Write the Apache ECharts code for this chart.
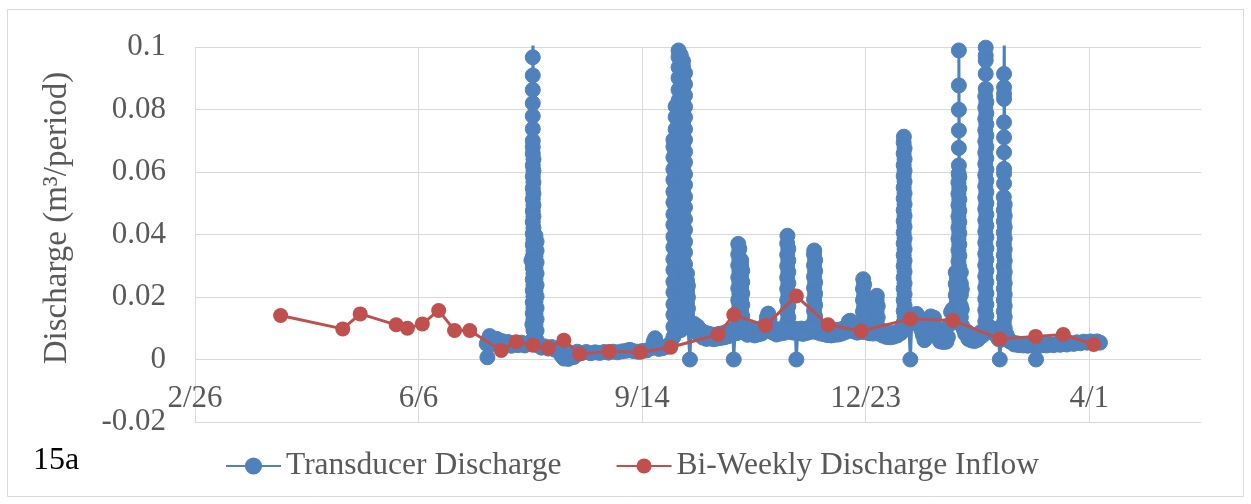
<!DOCTYPE html>
<html>
<head>
<meta charset="utf-8">
<title>Discharge 15a</title>
<script src="https://cdn.jsdelivr.net/npm/echarts@6/dist/echarts.min.js"></script>
<style>
  html, body { margin: 0; padding: 0; background: #ffffff; }
  #chart { width: 1251px; height: 504px; }
</style>
</head>
<body>
<div id="chart"></div>
<script>
// x values are days counted from 2/26; ticks every 100 days
const xTickLabels = ['2/26', '6/6', '9/14', '12/23', '4/1'];
const seriesNames = ['Transducer Discharge', 'Bi-Weekly Discharge Inflow'];

// Transducer record, in time order: [day, m3 per period]
const earlySummer = [
  [130.5,0.0050],[130.8,0.0007],[131.2,0.0063],[131.8,0.0075],[132.5,0.0049],[133.2,0.0068],
  [134.0,0.0057],[135.0,0.0066],[136.0,0.0051],[137.2,0.0059],[138.5,0.0047],[140.0,0.0056],
  [141.5,0.0044],[143.0,0.0053],[144.5,0.0046],[146.0,0.0054],[147.5,0.0045],[148.5,0.0050]
];
const julySpike = [
  [150.3,0.0058],[150.5,0.0317],[150.9,0.0112],
  [151.1,0.0148],[151.1,0.0183],[151.1,0.0221],[151.1,0.0256],[151.1,0.0294],[151.1,0.0329],
  [151.1,0.0367],[151.1,0.0402],[151.1,0.0440],[151.1,0.0475],[151.1,0.0513],[151.1,0.0548],
  [151.1,0.0586],[151.1,0.0621],[151.1,0.0659],[151.1,0.0680],[151.1,0.0700],[151.1,0.0738],
  [151.1,0.0779],[151.1,0.0820],[151.1,0.0863],[151.1,0.0909],[151.1,0.0967],[151.2,0.1040],
  [151.4,0.0641],[151.4,0.0604],[151.4,0.0567],[151.4,0.0531],[151.4,0.0494],[151.4,0.0458],
  [151.4,0.0421],[151.4,0.0384],[151.4,0.0348],[151.4,0.0311],[151.4,0.0275],[151.4,0.0238],
  [151.4,0.0202],[151.4,0.0165],[151.4,0.0129],[151.4,0.0093],
  [152.3,0.0111],[152.3,0.0147],[152.3,0.0184],[152.3,0.0220],[152.3,0.0257],[152.3,0.0293],
  [152.3,0.0330],[152.3,0.0366],[152.3,0.0396],
  [152.8,0.0378],[152.8,0.0348],[152.8,0.0311],[152.8,0.0275],[152.8,0.0238],[152.8,0.0202],
  [152.8,0.0165],[152.8,0.0129],[152.8,0.0092],[152.8,0.0062]
];
const lateSummer = [
  [153.5,0.0045],[155.0,0.0038],[156.5,0.0042],[158.0,0.0035],[159.5,0.0040],[161.0,0.0031],
  [162.5,0.0036],[164.0,0.0012],[165.0,0.0003],[166.0,0.0015],[167.0,0.0002],[168.0,0.0020],
  [169.5,0.0008],[171.0,0.0025],[173.0,0.0021],[175.0,0.0024],[177.0,0.0020],[179.0,0.0023],
  [181.0,0.0021],[183.0,0.0024],[185.0,0.0022],[187.0,0.0025],[189.0,0.0023],[191.0,0.0026],
  [193.0,0.0028],[194.5,0.0031],[196.0,0.0027],[198.0,0.0025],[200.0,0.0027],[202.0,0.0029],
  [204.0,0.0036],[205.2,0.0058],[205.8,0.0068],[206.4,0.0052],[207.5,0.0034],[209.0,0.0036],
  [210.5,0.0040],[211.5,0.0044],[212.8,0.0052]
];
const septemberSpike = [
  [214.0,0.0072],[214.0,0.0105],[214.0,0.0143],[214.0,0.0177],[214.0,0.0215],[214.0,0.0249],
  [214.0,0.0287],[214.0,0.0321],[214.0,0.0359],[214.0,0.0393],[214.0,0.0431],[214.0,0.0465],
  [214.0,0.0503],[214.0,0.0537],[214.0,0.0575],[214.0,0.0609],[214.0,0.0647],[214.0,0.0681],
  [214.0,0.0703],
  [215.0,0.0810],[215.0,0.0776],[215.0,0.0737],[215.0,0.0703],[215.0,0.0665],[215.0,0.0631],
  [215.0,0.0593],[215.0,0.0559],[215.0,0.0521],[215.0,0.0487],[215.0,0.0449],[215.0,0.0415],
  [215.0,0.0377],[215.0,0.0343],[215.0,0.0305],[215.0,0.0271],[215.0,0.0233],[215.0,0.0199],
  [215.0,0.0161],[215.0,0.0127],[215.0,0.0091],
  [216.3,0.0110],[216.3,0.0143],[216.3,0.0181],[216.3,0.0215],[216.3,0.0253],[216.3,0.0287],
  [216.3,0.0325],[216.3,0.0359],[216.3,0.0397],[216.3,0.0431],[216.3,0.0469],[216.3,0.0503],
  [216.3,0.0541],[216.3,0.0575],[216.3,0.0613],[216.3,0.0647],[216.3,0.0685],[216.3,0.0719],
  [216.3,0.0757],[216.3,0.0791],[216.3,0.0829],[216.3,0.0863],[216.3,0.0901],[216.3,0.0935],
  [216.3,0.0968],[216.3,0.0989],
  [217.3,0.0974],[217.3,0.0953],[217.3,0.0917],[217.3,0.0879],[217.3,0.0845],[217.3,0.0807],
  [217.3,0.0773],[217.3,0.0735],[217.3,0.0701],[217.3,0.0663],[217.3,0.0629],[217.3,0.0591],
  [217.3,0.0557],[217.3,0.0519],[217.3,0.0485],[217.3,0.0447],[217.3,0.0413],[217.3,0.0375],
  [217.3,0.0341],[217.3,0.0303],[217.3,0.0269],[217.3,0.0231],[217.3,0.0197],[217.3,0.0159],
  [217.3,0.0125],[217.3,0.0094],
  [218.3,0.0108],[218.3,0.0145],[218.3,0.0179],[218.3,0.0217],[218.3,0.0251],[218.3,0.0289],
  [218.3,0.0323],[218.3,0.0361],[218.3,0.0395],[218.3,0.0433],[218.3,0.0467],[218.3,0.0505],
  [218.3,0.0539],[218.3,0.0577],[218.3,0.0611],[218.3,0.0649],[218.3,0.0683],[218.3,0.0721],
  [218.3,0.0755],[218.3,0.0793],[218.3,0.0827],[218.3,0.0865],[218.3,0.0899],[218.3,0.0937],
  [218.3,0.0955],
  [219.2,0.0917],[219.2,0.0881],[219.2,0.0845],[219.2,0.0809],[219.2,0.0775],[219.2,0.0737],
  [219.2,0.0703],[219.2,0.0665],[219.2,0.0631],[219.2,0.0593],[219.2,0.0559],[219.2,0.0521],
  [219.2,0.0487],[219.2,0.0449],[219.2,0.0415],[219.2,0.0377],[219.2,0.0343],[219.2,0.0305],
  [219.2,0.0271],[219.2,0.0233],[219.2,0.0199],[219.2,0.0161],[219.2,0.0127],
  [220.1,0.0145],[220.1,0.0180],[220.1,0.0217],[220.1,0.0252],[220.1,0.0275],
  [220.5,0.0236],[220.5,0.0199],[220.5,0.0163],[220.5,0.0126],[220.5,0.0105]
];
const autumn = [
  [221.0,0.0102],[221.4,0.0000],[221.9,0.0110],[222.6,0.0095],[223.3,0.0114],[224.0,0.0088],
  [224.8,0.0106],[225.6,0.0079],[226.4,0.0093],[227.2,0.0070],[228.0,0.0086],[228.8,0.0066],
  [229.6,0.0083],[230.4,0.0068],[231.2,0.0080],[232.0,0.0065],[232.8,0.0079],[233.6,0.0067],
  [234.4,0.0082],[235.2,0.0069],[236.0,0.0084],[236.8,0.0071],[237.6,0.0088],[238.4,0.0074],
  [239.2,0.0092],[240.0,0.0080],[240.6,0.0095],[241.0,0.0000],[241.6,0.0098],[242.3,0.0084],
  [243.0,0.0118],[243.0,0.0155],[243.0,0.0190],[243.0,0.0228],[243.0,0.0263],[243.0,0.0301],
  [243.0,0.0336],[243.0,0.0370],
  [243.5,0.0354],[243.5,0.0318],[243.5,0.0282],[243.5,0.0246],[243.5,0.0210],[243.5,0.0173],
  [243.5,0.0137],[243.5,0.0101],
  [244.3,0.0120],[244.3,0.0157],[244.3,0.0193],[244.3,0.0229],[244.3,0.0266],[244.3,0.0302],
  [244.3,0.0318],
  [244.8,0.0284],[244.8,0.0248],[244.8,0.0211],[244.8,0.0175],[244.8,0.0139],[244.8,0.0103],
  [245.5,0.0086],[246.3,0.0100],[247.1,0.0079],[247.9,0.0094],[248.7,0.0081],[249.5,0.0098],
  [250.3,0.0077],[251.1,0.0093],[251.9,0.0080],[252.7,0.0097],[253.5,0.0083],[254.3,0.0101],
  [255.1,0.0112],[255.8,0.0135],[256.4,0.0147],[257.0,0.0128],[257.7,0.0104],[258.5,0.0086],
  [259.3,0.0099],[260.1,0.0080],[260.9,0.0095],[261.7,0.0083],[262.5,0.0098],[263.3,0.0085],
  [264.1,0.0102],
  [264.9,0.0118],[264.9,0.0153],[264.9,0.0190],[264.9,0.0226],[264.9,0.0262],[264.9,0.0299],
  [264.9,0.0335],[264.9,0.0371],[265.0,0.0396],
  [265.4,0.0354],[265.4,0.0317],[265.4,0.0280],[265.4,0.0244],[265.4,0.0208],[265.4,0.0171],
  [265.4,0.0135],[265.4,0.0100],
  [266.2,0.0088],[267.0,0.0101],[267.8,0.0086],[268.5,0.0098],[269.0,0.0000],[269.6,0.0096],
  [270.4,0.0084],[271.2,0.0099],[272.0,0.0082],[272.8,0.0096],[273.6,0.0085],[274.4,0.0101],
  [275.2,0.0088],[276.0,0.0103],
  [276.9,0.0120],[276.9,0.0156],[276.9,0.0192],[276.9,0.0229],[276.9,0.0265],[276.9,0.0301],
  [276.9,0.0336],[277.0,0.0349],
  [277.4,0.0318],[277.4,0.0283],[277.4,0.0247],[277.4,0.0210],[277.4,0.0174],[277.4,0.0138],
  [277.4,0.0102],
  [278.2,0.0087],[279.0,0.0100],[279.8,0.0083],[280.6,0.0097],[281.4,0.0081],[282.2,0.0094],
  [283.0,0.0078],[283.8,0.0092],[284.6,0.0077],[285.4,0.0093],[286.2,0.0079],[287.0,0.0095],
  [287.8,0.0080],[288.6,0.0096],[289.4,0.0083],[290.2,0.0100],[291.0,0.0088],[291.8,0.0110],
  [292.5,0.0122],[293.1,0.0124],[293.8,0.0106],[294.6,0.0090],[295.4,0.0101],[296.2,0.0086],
  [297.0,0.0099],[297.8,0.0088],
  [298.8,0.0118],[298.8,0.0153],[298.8,0.0190],[298.8,0.0226],[298.9,0.0257],
  [299.3,0.0240],[299.3,0.0204],[299.3,0.0168],[299.3,0.0131],[299.3,0.0100],
  [300.1,0.0087],[300.9,0.0099],[301.7,0.0084],[302.5,0.0097],[303.3,0.0083],[304.1,0.0098],
  [304.9,0.0117],[304.9,0.0153],[304.9,0.0189],[305.0,0.0204],
  [305.4,0.0171],[305.4,0.0135],[305.4,0.0100],
  [306.2,0.0082],[307.0,0.0094],[307.8,0.0076],[308.6,0.0089],[309.4,0.0072],[310.2,0.0085],
  [311.0,0.0071],[311.8,0.0084],[312.6,0.0073],[313.4,0.0086],[314.2,0.0077],[315.0,0.0092],
  [315.8,0.0085],[316.5,0.0100]
];
const decemberSpike = [
  [317.0,0.0118],[317.0,0.0155],[317.0,0.0190],[317.0,0.0227],[317.0,0.0262],[317.0,0.0299],
  [317.0,0.0334],[317.0,0.0371],[317.0,0.0406],[317.0,0.0443],[317.0,0.0478],[317.0,0.0515],
  [317.0,0.0550],[317.0,0.0587],[317.0,0.0622],[317.0,0.0659],[317.0,0.0694],[317.1,0.0713],
  [317.4,0.0676],[317.4,0.0641],[317.4,0.0604],[317.4,0.0569],[317.4,0.0532],[317.4,0.0497],
  [317.4,0.0460],[317.4,0.0425],[317.4,0.0388],[317.4,0.0353],[317.4,0.0316],[317.4,0.0281],
  [317.4,0.0244],[317.4,0.0209],[317.4,0.0172],[317.4,0.0137],[317.4,0.0104],
  [318.3,0.0118],[319.2,0.0125],[320.0,0.0000],[320.7,0.0132]
];
const winter = [
  [321.4,0.0141],[322.1,0.0120],[322.8,0.0146],[323.5,0.0112],[324.2,0.0128],[324.9,0.0095],
  [325.6,0.0078],[326.3,0.0062],[327.0,0.0081],[327.7,0.0104],[328.4,0.0126],[329.1,0.0138],
  [329.8,0.0121],[330.5,0.0134],[331.2,0.0105],[331.9,0.0086],[332.6,0.0067],[333.3,0.0058],
  [334.0,0.0066],[334.7,0.0056],[335.4,0.0063],[336.1,0.0057],[336.8,0.0072],[337.5,0.0112],
  [338.2,0.0152],[338.9,0.0161],[339.6,0.0134],
  [340.3,0.0170],[340.3,0.0206],[340.3,0.0242],[340.3,0.0279],
  [340.8,0.0262],[340.8,0.0225],[340.8,0.0188],[340.8,0.0152],
  [341.5,0.0170],[341.5,0.0206],[341.5,0.0242],[341.5,0.0278],[341.5,0.0314],[341.5,0.0350],
  [341.5,0.0386],[341.5,0.0422],[341.5,0.0458],[341.5,0.0494],[341.5,0.0530],[341.5,0.0566],
  [341.6,0.0595],[341.7,0.0621],[341.7,0.0677],[341.7,0.0733],[341.7,0.0799],[341.7,0.0877],
  [341.7,0.0989],
  [341.9,0.0584],[341.9,0.0548],[341.9,0.0512],[341.9,0.0476],[341.9,0.0440],[341.9,0.0404],
  [341.9,0.0368],[341.9,0.0332],[341.9,0.0296],[341.9,0.0260],[341.9,0.0224],[341.9,0.0188],
  [341.9,0.0152],[341.9,0.0118],
  [342.6,0.0135],[342.6,0.0171],[342.6,0.0207],[342.6,0.0243],[342.6,0.0279],
  [343.0,0.0225],[343.0,0.0160],[343.0,0.0110],
  [343.8,0.0098],[344.5,0.0082],[345.2,0.0090],[345.9,0.0066],[346.6,0.0079],[347.3,0.0061],
  [348.0,0.0074],[348.7,0.0059],[349.4,0.0071],[350.1,0.0063],[350.8,0.0080],[351.5,0.0088],
  [352.2,0.0076],[352.9,0.0092],
  [353.5,0.0122],[353.5,0.0158],[353.5,0.0194],[353.5,0.0230],[353.5,0.0266],[353.5,0.0302],
  [353.5,0.0338],[353.5,0.0374],[353.5,0.0410],[353.5,0.0446],[353.5,0.0482],[353.5,0.0518],
  [353.5,0.0554],[353.5,0.0590],[353.5,0.0626],[353.5,0.0662],[353.5,0.0698],[353.5,0.0734],
  [353.5,0.0770],[353.5,0.0806],[353.5,0.0842],[353.7,0.0866],[353.7,0.0914],[353.7,0.0957],
  [353.7,0.0973],[353.7,0.0998],
  [354.0,0.0824],[354.0,0.0788],[354.0,0.0752],[354.0,0.0716],[354.0,0.0680],[354.0,0.0644],
  [354.0,0.0608],[354.0,0.0572],[354.0,0.0536],[354.0,0.0500],[354.0,0.0464],[354.0,0.0428],
  [354.0,0.0392],[354.0,0.0356],[354.0,0.0320],[354.0,0.0284],[354.0,0.0248],[354.0,0.0212],
  [354.0,0.0176],[354.0,0.0140],[354.0,0.0104],
  [354.8,0.0092],[355.5,0.0104],[356.2,0.0088],[356.9,0.0099],[357.6,0.0083],[358.3,0.0090],
  [359.0,0.0072],[359.5,0.0065],[360.0,0.0000],[360.6,0.0063],[361.3,0.0088],
  [361.8,0.0118],[361.8,0.0154],[361.8,0.0190],[361.8,0.0226],[361.8,0.0262],[361.8,0.0298],
  [361.8,0.0334],[361.8,0.0370],[361.8,0.0406],[361.8,0.0442],[361.8,0.0478],[361.8,0.0520],
  [361.9,0.0563],[361.9,0.0595],[361.9,0.0610],[361.9,0.0663],[361.9,0.0711],[361.9,0.0759],
  [361.9,0.0834],[361.9,0.0850],[361.9,0.0871],[361.9,0.0914],[362.0,0.1050],
  [362.2,0.0496],[362.2,0.0460],[362.2,0.0424],[362.2,0.0388],[362.2,0.0352],[362.2,0.0316],
  [362.2,0.0280],[362.2,0.0244],[362.2,0.0208],[362.2,0.0172],[362.2,0.0136],[362.2,0.0100],
  [363.0,0.0080],[363.7,0.0068],[364.4,0.0058]
];
const spring = [
  [365.5,0.0055],[366.5,0.0048],[367.5,0.0052],[368.5,0.0046],[369.5,0.0050],[370.5,0.0045],
  [371.5,0.0049],[372.5,0.0044],[373.5,0.0048],[374.5,0.0045],[375.5,0.0049],[376.2,0.0000],
  [376.9,0.0047],[378.0,0.0044],[379.5,0.0048],[381.0,0.0045],[382.5,0.0049],[384.0,0.0046],
  [385.5,0.0050],[387.0,0.0047],[388.5,0.0051],[390.0,0.0048],[391.5,0.0053],[393.0,0.0050],
  [394.5,0.0055],[396.0,0.0052],[397.5,0.0057],[399.0,0.0054],[400.5,0.0058],[402.0,0.0055],
  [403.5,0.0058],[404.8,0.0054]
];

// Bi-weekly grab samples: [day, m3 per period]
const biWeeklyInflow = [
  [38.3,0.0141],[66.1,0.0098],[73.9,0.0146],[90.0,0.0111],[95.0,0.0100],[101.7,0.0114],
  [109.0,0.0157],[116.1,0.0093],[122.9,0.0093],[137.0,0.0029],[143.7,0.0057],[151.2,0.0046],
  [158.0,0.0037],[165.0,0.0062],[172.1,0.0018],[185.2,0.0026],[199.2,0.0023],[212.8,0.0039],
  [234.0,0.0080],[241.0,0.0143],[255.2,0.0109],[269.0,0.0203],[283.2,0.0111],[298.0,0.0091],
  [320.0,0.0130],[339.0,0.0125],[360.0,0.0066],[376.0,0.0074],[388.4,0.0080],[402.0,0.0048]
];

const transducer = [].concat(earlySummer, julySpike, lateSummer, septemberSpike,
  autumn, decemberSpike, winter, spring);

const serif = "'Liberation Serif', 'Times New Roman', serif";
const grey = '#595959';
const gridGrey = '#D9D9D9';

const chart = echarts.init(document.getElementById('chart'), null, { renderer: 'canvas' });
chart.setOption({
  animation: false,
  backgroundColor: '#ffffff',
  textStyle: { fontFamily: serif },
  graphic: [
    {
      type: 'rect', silent: true, z: -10,
      shape: { x: 7.5, y: 9.5, width: 1236, height: 487 },
      style: { fill: '#ffffff', stroke: gridGrey, lineWidth: 1 }
    },
    {
      type: 'text', left: 33, top: 445,
      style: { text: '15a', fontFamily: serif, fontSize: 32, fill: '#000000' }
    }
  ],
  grid: { left: 195, right: 50, top: 47, bottom: 82, containLabel: false },
  legend: {
    left: 220, top: 445,
    itemWidth: 55, itemHeight: 19, itemGap: 54,
    textStyle: { fontFamily: serif, fontSize: 31.5, color: grey },
    data: seriesNames
  },
  xAxis: {
    type: 'value', min: 0, max: 450, interval: 100,
    // the date labels sit just under the zero line, 0.02 above the plot floor
    offset: -62.5,
    axisLine: { show: false },
    axisTick: { show: false },
    splitLine: { show: true, showMaxLine: false, lineStyle: { color: gridGrey, width: 1 } },
    axisLabel: {
      margin: 24, fontFamily: serif, fontSize: 31, color: grey,
      formatter: v => (v % 100 === 0 && xTickLabels[v / 100]) ? xTickLabels[v / 100] : ''
    }
  },
  yAxis: {
    type: 'value', min: -0.02, max: 0.1, interval: 0.02,
    name: 'Discharge (m³/period)', nameLocation: 'middle', nameRotate: 90, nameGap: 121,
    nameTextStyle: { fontFamily: serif, fontSize: 33, color: grey, padding: [0, 0, 0, 33] },
    axisLine: { show: false },
    axisTick: { show: false },
    splitLine: { show: true, lineStyle: { color: gridGrey, width: 1 } },
    axisLabel: {
      margin: 29, fontFamily: serif, fontSize: 31, color: grey,
      formatter: v => String(Math.round(v * 100) / 100)
    }
  },
  series: [
    {
      name: seriesNames[0], type: 'line', data: transducer,
      symbol: 'circle', symbolSize: 15, showSymbol: true,
      lineStyle: { color: '#4F81BD', width: 3 },
      itemStyle: { color: '#4F81BD', borderColor: '#4F81BD', borderWidth: 1 },
      z: 2
    },
    {
      name: seriesNames[1], type: 'line', data: biWeeklyInflow,
      symbol: 'circle', symbolSize: 15, showSymbol: true,
      lineStyle: { color: '#C0504D', width: 3 },
      itemStyle: { color: '#C0504D' },
      z: 3
    }
  ]
});
</script>
</body>
</html>
